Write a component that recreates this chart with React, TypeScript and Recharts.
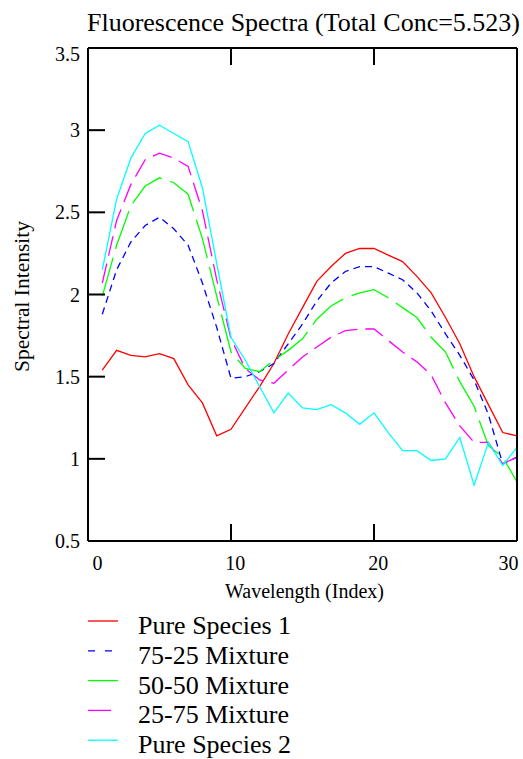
import React from 'react';
import { LineChart, Line, XAxis, YAxis, Legend } from 'recharts';

const wavelengthIndex = [1, 2, 3, 4, 5, 6, 7, 8, 9, 10, 11, 12, 13, 14, 15, 16, 17, 18, 19, 20, 21, 22, 23, 24, 25, 26, 27, 28, 29, 30];
const pureSpecies1 = [1.54, 1.66, 1.63, 1.62, 1.64, 1.61, 1.45, 1.34, 1.14, 1.18, 1.31, 1.44, 1.58, 1.76, 1.92, 2.08, 2.17, 2.25, 2.28, 2.28, 2.24, 2.2, 2.11, 2.01, 1.86, 1.7, 1.5, 1.33, 1.16, 1.14];
const mixture7525 = [1.88, 2.15, 2.32, 2.42, 2.47, 2.4, 2.3, 2.07, 1.8, 1.49, 1.5, 1.53, 1.58, 1.7, 1.82, 1.96, 2.07, 2.14, 2.17, 2.17, 2.13, 2.09, 2.01, 1.9, 1.76, 1.63, 1.48, 1.27, 0.97, 1.01];
const mixture5050 = [1.99, 2.3, 2.54, 2.66, 2.71, 2.68, 2.61, 2.34, 1.99, 1.65, 1.55, 1.53, 1.6, 1.66, 1.73, 1.85, 1.93, 1.98, 2.01, 2.03, 1.98, 1.92, 1.86, 1.74, 1.65, 1.47, 1.32, 1.08, 1.01, 0.86];
const mixture2575 = [2.07, 2.45, 2.67, 2.82, 2.86, 2.83, 2.78, 2.51, 2.09, 1.73, 1.55, 1.48, 1.46, 1.54, 1.62, 1.68, 1.74, 1.78, 1.79, 1.79, 1.72, 1.65, 1.59, 1.51, 1.34, 1.2, 1.1, 1.1, 0.97, 1.01];
const pureSpecies2 = [2.15, 2.58, 2.83, 2.98, 3.03, 2.98, 2.93, 2.65, 2.19, 1.74, 1.6, 1.44, 1.28, 1.4, 1.31, 1.3, 1.33, 1.28, 1.21, 1.28, 1.16, 1.05, 1.05, 0.99, 1.0, 1.13, 0.84, 1.1, 0.96, 1.07];

const xTickValues = [0, 10, 20, 30];
const yTickValues = [0.5, 1, 1.5, 2, 2.5, 3, 3.5];

const seriesKeys = ['s1', 'm7525', 'm5050', 'm2575', 's2'];
const seriesNames = ['Pure Species 1', '75-25 Mixture', '50-50 Mixture', '25-75 Mixture', 'Pure Species 2'];
const seriesColors = ['#ff0000', '#0000ff', '#00ff00', '#ff00ff', '#00ffff'];
const seriesDashes: (string | undefined)[] = [undefined, '7 5', '40 9', '20 8', undefined];
const legendDashes: (string | undefined)[] = [undefined, '7 10', undefined, '23 20', undefined];
const seriesValues = [pureSpecies1, mixture7525, mixture5050, mixture2575, pureSpecies2];

const chartTitle = 'Fluorescence Spectra (Total Conc=5.523)';
const xAxisTitle = 'Wavelength (Index)';
const yAxisTitle = 'Spectral Intensity';

const data = wavelengthIndex.map((w, i) => {
  const row: Record<string, number> = { w };
  seriesKeys.forEach((k, j) => {
    row[k] = seriesValues[j][i];
  });
  return row;
});

const FONT = '"Liberation Serif", "Times New Roman", Times, serif';
const TICK = 17;

const BottomTick = (p: any) => {
  const { x, y, payload } = p;
  const v = payload.value;
  const dx = v === 0 ? 9.5 : v === 30 ? -8.5 : 4.3;
  return (
    <g>
      <line x1={x} x2={x} y1={y} y2={y - TICK} stroke="#000" strokeWidth={2} />
      <text x={x + dx} y={y + 29} textAnchor="middle" fontSize={20} fontFamily={FONT} fill="#000">
        {String(v)}
      </text>
    </g>
  );
};

const TopTick = (p: any) => {
  const { x, y } = p;
  return <line x1={x} x2={x} y1={y} y2={y + TICK} stroke="#000" strokeWidth={2} />;
};

const LeftTick = (p: any) => {
  const { x, y, payload } = p;
  const v = payload.value;
  const dy = v === 3.5 ? 13 : 7;
  return (
    <g>
      <line x1={x} x2={x + TICK} y1={y} y2={y} stroke="#000" strokeWidth={2} />
      <text x={x - 8} y={y + dy} textAnchor="end" fontSize={20} fontFamily={FONT} fill="#000">
        {String(v)}
      </text>
    </g>
  );
};

const RightTick = (p: any) => {
  const { x, y } = p;
  return <line x1={x} x2={x - TICK} y1={y} y2={y} stroke="#000" strokeWidth={2} />;
};

const TitleLabel = (p: any) => {
  const vb = p.viewBox || {};
  return (
    <text x={vb.x + vb.width / 2 + 1} y={31} textAnchor="middle" fontSize={26} fontFamily={FONT} fill="#000">
      {chartTitle}
    </text>
  );
};

const XTitleLabel = (p: any) => {
  const vb = p.viewBox || {};
  return (
    <text x={vb.x + vb.width / 2 + 2} y={598} textAnchor="middle" fontSize={20} fontFamily={FONT} fill="#000">
      {xAxisTitle}
    </text>
  );
};

const YTitleLabel = (p: any) => {
  const vb = p.viewBox || {};
  const cy = vb.y + vb.height / 2 + 2;
  return (
    <text x={29} y={cy} textAnchor="middle" fontSize={21.5} fontFamily={FONT} fill="#000" transform={`rotate(-90 29 ${cy})`}>
      {yAxisTitle}
    </text>
  );
};

const LegendContent = () => (
  <svg width={523} height={160} style={{ display: 'block', overflow: 'visible' }}>
    {seriesNames.map((name, i) => {
      const ly = 21 + i * 29.8;
      return (
        <g key={name}>
          <line x1={88} x2={118} y1={ly} y2={ly} stroke={seriesColors[i]} strokeWidth={1.3} strokeDasharray={legendDashes[i]} />
          <text x={138} y={ly + 13} fontSize={26} fontFamily={FONT} fill="#000">
            {name}
          </text>
        </g>
      );
    })}
  </svg>
);

export default function App() {
  const axisLine = { stroke: '#000', strokeWidth: 2 };
  return (
    <div style={{ position: 'absolute', left: 0, top: 0, width: 523, height: 759, background: '#fff' }}>
      <LineChart width={523} height={759} data={data} margin={{ top: 47, right: 5, bottom: 217, left: 87 }}>
        <XAxis
          dataKey="w"
          type="number"
          domain={[0, 30]}
          ticks={xTickValues}
          interval={0}
          height={1}
          tickSize={0}
          tickMargin={0}
          tickLine={false}
          axisLine={axisLine}
          tick={BottomTick}
          label={XTitleLabel}
        />
        <XAxis
          xAxisId="top"
          orientation="top"
          dataKey="w"
          type="number"
          domain={[0, 30]}
          ticks={xTickValues}
          interval={0}
          height={1}
          tickSize={0}
          tickMargin={0}
          tickLine={false}
          axisLine={axisLine}
          tick={TopTick}
          label={TitleLabel}
        />
        <YAxis
          type="number"
          domain={[0.5, 3.5]}
          ticks={yTickValues}
          interval={0}
          width={1}
          tickSize={0}
          tickMargin={0}
          tickLine={false}
          axisLine={axisLine}
          tick={LeftTick}
          label={YTitleLabel}
        />
        <YAxis
          yAxisId="right"
          orientation="right"
          type="number"
          domain={[0.5, 3.5]}
          ticks={yTickValues}
          interval={0}
          width={1}
          tickSize={0}
          tickMargin={0}
          tickLine={false}
          axisLine={axisLine}
          tick={RightTick}
        />
        {seriesKeys.map((k, i) => (
          <Line
            key={k}
            type="linear"
            dataKey={k}
            name={seriesNames[i]}
            stroke={seriesColors[i]}
            strokeWidth={1.3}
            strokeDasharray={seriesDashes[i]}
            dot={false}
            activeDot={false}
            isAnimationActive={false}
          />
        ))}
        <Legend
          layout="vertical"
          align="center"
          verticalAlign="bottom"
          content={LegendContent}
          wrapperStyle={{ position: 'absolute', left: 0, top: 600, width: 523, height: 0, overflow: 'visible' }}
        />
      </LineChart>
    </div>
  );
}
